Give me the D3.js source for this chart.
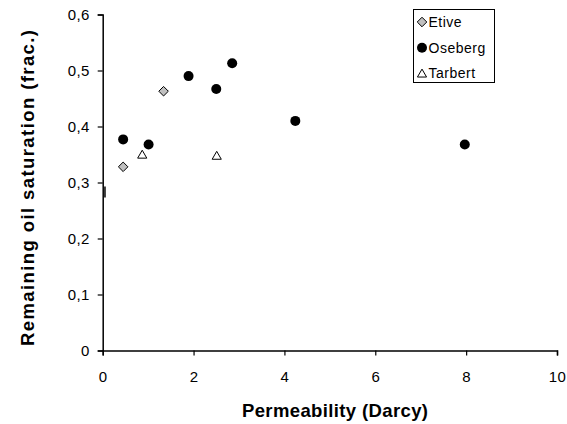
<!DOCTYPE html>
<html>
<head>
<meta charset="utf-8">
<script src="https://cdn.jsdelivr.net/npm/d3@7"></script>
<style>
body{margin:0;background:#fff;}
svg text{font-family:"Liberation Sans",Arial,sans-serif;}
</style>
</head>
<body>
<div id="chart"></div>
<script>
// data
const etive = [[0.45, 0.328], [1.34, 0.463]]
const oseberg = [[0.45, 0.377], [1.01, 0.368], [1.89, 0.490], [2.50, 0.467], [2.85, 0.513], [4.24, 0.410], [7.97, 0.368]]
const tarbert = [[0.87, 0.350], [2.51, 0.348]]
const strayMark = [[0.05, 0.283]] // the little dash near the y axis
const xTicks = [0, 2, 4, 6, 8, 10]
const yTicks = [0, 0.1, 0.2, 0.3, 0.4, 0.5, 0.6]
const seriesNames = ["Etive", "Oseberg", "Tarbert"]

const width = 567, height = 424
const svg = d3.select("#chart").append("svg").attr("width", width).attr("height", height)

const x = d3.scaleLinear().domain([0, 10]).range([102.7, 557])
const y = d3.scaleLinear().domain([0, 0.6]).range([350.5, 14.5])
const fmt = d => d === 0 ? "0" : d3.format(".1f")(d).replace(".", ",")

//axes
const xa = svg.append("g").attr("transform", `translate(0,${y(0)})`)
  .call(d3.axisBottom(x).tickValues(xTicks).tickSize(5).tickPadding(21).tickFormat(d3.format("d")))
const ya = svg.append("g").attr("transform", `translate(${x(0)},0)`)
  .call(d3.axisLeft(y).tickValues(yTicks).tickSize(5).tickPadding(8).tickFormat(fmt))
;[xa, ya].forEach(a => {
  a.select(".domain").attr("stroke", "#000").attr("stroke-width", 1.5)
  a.selectAll(".tick line").attr("stroke", "#000").attr("stroke-width", 1.2)
  a.selectAll(".tick text").attr("font-size", 15).attr("letter-spacing", "0.4px").attr("fill", "#000")
    .attr("font-family", "Liberation Sans, Arial, sans-serif")
})
xa.selectAll(".tick text").attr("dy", "0.35em")
ya.selectAll(".tick text").attr("dy", "0.35em")

svg.append("text").attr("x", 335).attr("y", 416.5).attr("text-anchor", "middle")
  .attr("font-size", 18.5).attr("font-weight", "bold")
  .attr("textLength", 186).attr("lengthAdjust", "spacing").text("Permeability (Darcy)")
svg.append("text").attr("transform", "translate(33.5,188) rotate(-90)").attr("text-anchor", "middle")
  .attr("font-size", 18.5).attr("font-weight", "bold")
  .attr("textLength", 316).attr("lengthAdjust", "spacing").text("Remaining oil saturation (frac.)")

// markers
const diamond = d3.symbol().type(d3.symbolDiamond2).size(58)
const tri = d3.symbol().type(d3.symbolTriangle2).size(60)

svg.append("g").selectAll("path").data(etive).enter().append("path")
  .attr("d", diamond).attr("transform", d => `translate(${x(d[0])},${y(d[1])})`)
  .attr("fill", "#c0c0c0").attr("stroke", "#000").attr("stroke-width", 1)

svg.append("g").selectAll("circle").data(oseberg).enter().append("circle")
  .attr("cx", d => x(d[0])).attr("cy", d => y(d[1])).attr("r", 5).attr("fill", "#000")

svg.append("g").selectAll("path").data(tarbert).enter().append("path")
  .attr("d", tri).attr("transform", d => `translate(${x(d[0])},${y(d[1]) + 1})`)
  .attr("fill", "#fff").attr("stroke", "#000").attr("stroke-width", 1)

svg.append("g").selectAll("line").data(strayMark).enter().append("line")
  .attr("x1", d => x(d[0])).attr("x2", d => x(d[0]))
  .attr("y1", d => y(d[1]) - 5.5).attr("y2", d => y(d[1]) + 5.5)
  .attr("stroke", "#000").attr("stroke-width", 1.5)

// legend
const leg = svg.append("g")
leg.append("rect").attr("x", 413.5).attr("y", 9.5).attr("width", 81).attr("height", 73)
  .attr("fill", "#fff").attr("stroke", "#000").attr("stroke-width", 1)
const kinds = ["diamond", "circle", "tri"]
seriesNames.forEach((name, i) => {
  const cy = 22 + i * 25.7
  const k = kinds[i]
  if (k == "diamond") leg.append("path").attr("d", diamond).attr("transform", `translate(422,${cy})`)
    .attr("fill", "#c0c0c0").attr("stroke", "#000")
  else if (k == "circle") leg.append("circle").attr("cx", 422).attr("cy", cy).attr("r", 5).attr("fill", "#000")
  else leg.append("path").attr("d", tri).attr("transform", `translate(422,${cy + 1})`)
    .attr("fill", "#fff").attr("stroke", "#000")
  leg.append("text").attr("x", 428.5).attr("y", cy).attr("dy", "0.35em").attr("font-size", 14)
    .attr("letter-spacing", "0.5px").text(name)
})
</script>
</body>
</html>
